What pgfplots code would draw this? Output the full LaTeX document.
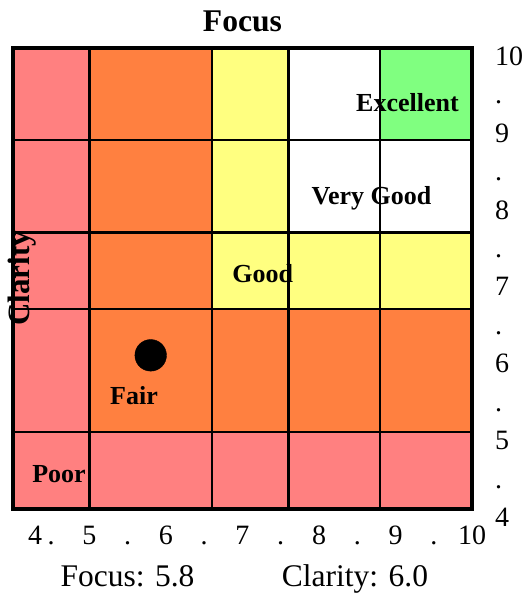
\documentclass[border=0pt]{standalone}
\usepackage{pgfplots}
\pgfplotsset{compat=1.18}
\usepackage{fontspec}
\setmainfont{Liberation Serif}
\definecolor{cpink}{HTML}{FF8080}
\definecolor{corange}{HTML}{FF8040}
\definecolor{cyellow}{HTML}{FFFF80}
\definecolor{cgreen}{HTML}{80FF80}
\begin{document}
\begin{tikzpicture}
\begin{axis}[
  width=459pt, height=461pt, scale only axis,
  xmin=4, xmax=10, ymin=4, ymax=10,
  axis on top, clip=false,
  axis line style={line width=4pt},
  major tick length=0pt,
  /pgf/number format/assume math mode=true,
  xtick={4.29,4.5,5,5.5,6,6.5,7,7.5,8,8.5,9,9.5,10},
  xticklabels={4,.,5,.,6,.,7,.,8,.,9,.,10},
  ytick={4,4.5,5,5.5,6,6.5,7,7.5,8,8.5,9,9.5,10},
  yticklabels={4,.,5,.,6,.,7,.,8,.,9,.,10},
  yticklabel pos=right,
  xticklabel style={font=\fontsize{28}{32}\selectfont, inner sep=0pt, text height=19pt, text depth=0pt, anchor=north, yshift=-16pt},
  yticklabel style={font=\fontsize{28}{32}\selectfont, inner sep=0pt, text height=19pt, text depth=0pt, anchor=west, xshift=23pt, yshift=-8pt},
]
% colored regions
\addplot[draw=none, fill=cpink] coordinates {(4,4) (10,4) (10,5) (5,5) (5,10) (4,10)} -- cycle;
\addplot[draw=none, fill=corange] coordinates {(5,5) (10,5) (10,6.6) (6.6,6.6) (6.6,10) (5,10)} -- cycle;
\addplot[draw=none, fill=cyellow] coordinates {(6.6,6.6) (10,6.6) (10,7.6) (7.6,7.6) (7.6,10) (6.6,10)} -- cycle;
\addplot[draw=none, fill=white] coordinates {(7.6,7.6) (10,7.6) (10,8.8) (8.8,8.8) (8.8,10) (7.6,10)} -- cycle;
\addplot[draw=none, fill=cgreen] coordinates {(8.8,8.8) (10,8.8) (10,10) (8.8,10)} -- cycle;
% grid lines
\addplot[black, line width=2.3pt] coordinates {(5,4) (5,10)};
\addplot[black, line width=2.3pt] coordinates {(6.6,4) (6.6,10)};
\addplot[black, line width=2.3pt] coordinates {(7.6,4) (7.6,10)};
\addplot[black, line width=2.3pt] coordinates {(8.8,4) (8.8,10)};
\addplot[black, line width=2.3pt] coordinates {(4,5) (10,5)};
\addplot[black, line width=2.3pt] coordinates {(4,6.6) (10,6.6)};
\addplot[black, line width=2.3pt] coordinates {(4,7.6) (10,7.6)};
\addplot[black, line width=2.3pt] coordinates {(4,8.8) (10,8.8)};
% current point
\addplot[only marks, mark=*, mark size=15.8pt, black] coordinates {(5.8,6.0)};
% region labels
\node[font=\fontsize{26}{30}\selectfont\bfseries, anchor=base, inner sep=0pt] at (axis cs:9.157,9.17) {Excellent};
\node[font=\fontsize{26}{30}\selectfont\bfseries, anchor=base, inner sep=0pt] at (axis cs:8.686,7.969) {Very Good};
\node[font=\fontsize{26}{30}\selectfont\bfseries, anchor=base, inner sep=0pt] at (axis cs:7.264,6.953) {Good};
\node[font=\fontsize{26}{30}\selectfont\bfseries, anchor=base, inner sep=0pt] at (axis cs:5.582,5.365) {Fair};
\node[font=\fontsize{26}{30}\selectfont\bfseries, anchor=base, inner sep=0pt] at (axis cs:4.601,4.349) {Poor};
% titles
\node[font=\fontsize{31.6}{36}\selectfont\bfseries, anchor=base, inner sep=0pt] at (rel axis cs:0.5,1.0347) {Focus};
\node[font=\fontsize{31}{36}\selectfont\bfseries, anchor=base, rotate=90, inner sep=0pt] at (rel axis cs:0.035,0.5) {Clarity};
\node[font=\fontsize{31.5}{36}\selectfont, anchor=base, inner sep=0pt] at (rel axis cs:0.2495,-0.169) {Focus: 5.8};
\node[font=\fontsize{31.5}{36}\selectfont, anchor=base, inner sep=0pt] at (rel axis cs:0.745,-0.169) {Clarity: 6.0};
% picture extent
\path (rel axis cs:-0.0283,-0.1844) rectangle (rel axis cs:1.122,1.1041);
\end{axis}
\end{tikzpicture}
\end{document}
